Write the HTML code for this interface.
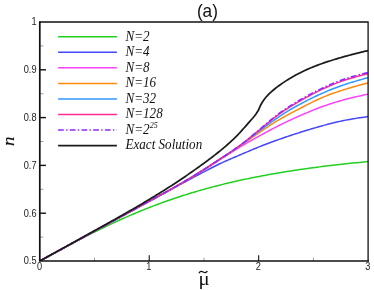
<!DOCTYPE html>
<html><head><meta charset="utf-8"><title>plot</title>
<style>
html,body{margin:0;padding:0;background:#fff;}
body{width:374px;height:290px;overflow:hidden;position:relative;font-family:"Liberation Sans",sans-serif;}
</style></head><body>
<svg width="374" height="290" viewBox="0 0 374 290" style="position:absolute;left:0;top:0">
<rect width="374" height="290" fill="#fff"/>
<defs><clipPath id="c"><rect x="39.8" y="22.0" width="328.3" height="239.0"/></clipPath></defs>
<g clip-path="url(#c)" fill="none" stroke-width="1.50" stroke-linejoin="round">
<path d="M39.80 261.00 L42.00 259.80 L44.21 258.59 L46.41 257.39 L48.61 256.19 L50.82 254.99 L53.02 253.80 L55.22 252.60 L57.43 251.41 L59.63 250.22 L61.83 249.03 L64.04 247.85 L66.24 246.67 L68.44 245.49 L70.65 244.32 L72.85 243.16 L75.05 242.00 L77.26 240.84 L79.46 239.69 L81.66 238.55 L83.87 237.41 L86.07 236.28 L88.27 235.16 L90.48 234.04 L92.68 232.94 L94.88 231.83 L97.09 230.74 L99.29 229.66 L101.49 228.58 L103.70 227.51 L105.90 226.45 L108.10 225.40 L110.31 224.36 L112.51 223.32 L114.71 222.30 L116.92 221.29 L119.12 220.28 L121.32 219.29 L123.53 218.30 L125.73 217.33 L127.93 216.36 L130.14 215.41 L132.34 214.46 L134.54 213.53 L136.75 212.60 L138.95 211.69 L141.15 210.78 L143.36 209.89 L145.56 209.01 L147.76 208.13 L149.97 207.27 L152.17 206.42 L154.37 205.58 L156.58 204.75 L158.78 203.93 L160.98 203.11 L163.19 202.31 L165.39 201.52 L167.59 200.74 L169.80 199.97 L172.00 199.22 L174.20 198.47 L176.41 197.73 L178.61 197.00 L180.81 196.28 L183.02 195.57 L185.22 194.87 L187.42 194.18 L189.63 193.50 L191.83 192.83 L194.03 192.16 L196.24 191.51 L198.44 190.87 L200.64 190.23 L202.85 189.61 L205.05 188.99 L207.26 188.39 L209.46 187.79 L211.66 187.20 L213.87 186.62 L216.07 186.04 L218.27 185.48 L220.48 184.92 L222.68 184.38 L224.88 183.84 L227.09 183.31 L229.29 182.78 L231.49 182.27 L233.70 181.76 L235.90 181.26 L238.10 180.76 L240.31 180.28 L242.51 179.80 L244.71 179.33 L246.92 178.86 L249.12 178.41 L251.32 177.95 L253.53 177.51 L255.73 177.07 L257.93 176.64 L260.14 176.22 L262.34 175.80 L264.54 175.39 L266.75 174.98 L268.95 174.58 L271.15 174.19 L273.36 173.80 L275.56 173.42 L277.76 173.05 L279.97 172.68 L282.17 172.31 L284.37 171.95 L286.58 171.60 L288.78 171.25 L290.98 170.90 L293.19 170.57 L295.39 170.23 L297.59 169.90 L299.80 169.58 L302.00 169.26 L304.20 168.95 L306.41 168.64 L308.61 168.33 L310.81 168.03 L313.02 167.74 L315.22 167.44 L317.42 167.16 L319.63 166.87 L321.83 166.59 L324.03 166.32 L326.24 166.05 L328.44 165.78 L330.64 165.52 L332.85 165.26 L335.05 165.00 L337.25 164.75 L339.46 164.50 L341.66 164.25 L343.86 164.01 L346.07 163.77 L348.27 163.54 L350.47 163.31 L352.68 163.08 L354.88 162.86 L357.08 162.63 L359.29 162.41 L361.49 162.20 L363.69 161.99 L365.90 161.78 L368.10 161.57" stroke="#22d022"/>
<path d="M39.80 261.00 L41.80 259.91 L43.80 258.82 L45.80 257.72 L47.80 256.63 L49.80 255.54 L51.80 254.45 L53.80 253.36 L55.80 252.27 L57.80 251.17 L59.80 250.08 L61.80 248.99 L63.80 247.90 L65.80 246.81 L67.80 245.72 L69.80 244.62 L71.80 243.53 L73.80 242.44 L75.80 241.35 L77.80 240.26 L79.80 239.17 L81.80 238.08 L83.80 236.98 L85.80 235.89 L87.80 234.80 L89.80 233.71 L91.80 232.62 L93.80 231.53 L95.80 230.44 L97.80 229.35 L99.80 228.26 L101.80 227.17 L103.80 226.08 L105.80 224.99 L107.80 223.90 L109.80 222.81 L111.80 221.72 L113.80 220.63 L115.80 219.54 L117.80 218.45 L119.80 217.36 L121.80 216.27 L123.80 215.18 L125.80 214.09 L127.80 213.00 L129.80 211.91 L131.80 210.82 L133.80 209.73 L135.80 208.64 L137.80 207.55 L139.80 206.46 L141.80 205.37 L143.80 204.28 L145.80 203.19 L147.80 202.10 L149.80 201.01 L151.80 199.92 L153.80 198.83 L155.80 197.74 L157.80 196.65 L159.80 195.56 L161.80 194.47 L163.80 193.38 L165.80 192.29 L167.80 191.20 L169.80 190.12 L171.80 189.03 L173.80 187.95 L175.80 186.87 L177.80 185.79 L179.80 184.71 L181.80 183.63 L183.80 182.55 L185.80 181.48 L187.80 180.41 L189.80 179.34 L191.80 178.27 L193.80 177.20 L195.80 176.13 L197.80 175.07 L199.80 174.01 L201.80 172.95 L203.80 171.89 L205.80 170.84 L207.80 169.79 L209.80 168.76 L211.80 167.74 L213.80 166.73 L215.80 165.73 L217.80 164.75 L219.80 163.79 L221.80 162.86 L223.80 161.94 L225.80 161.03 L227.80 160.15 L229.80 159.27 L231.80 158.40 L233.80 157.54 L235.80 156.69 L237.80 155.84 L239.80 154.99 L241.80 154.13 L243.80 153.28 L245.80 152.42 L247.80 151.57 L249.80 150.72 L251.80 149.88 L253.80 149.04 L255.80 148.21 L257.80 147.40 L259.80 146.59 L261.80 145.80 L263.80 145.02 L265.80 144.25 L267.80 143.49 L269.80 142.75 L271.80 142.01 L273.80 141.29 L275.80 140.57 L277.80 139.86 L279.80 139.15 L281.80 138.45 L283.80 137.76 L285.80 137.07 L287.80 136.39 L289.80 135.72 L291.80 135.05 L293.80 134.39 L295.80 133.74 L297.80 133.09 L299.80 132.45 L301.80 131.82 L303.80 131.20 L305.80 130.59 L307.80 129.98 L309.80 129.38 L311.80 128.79 L313.80 128.21 L315.80 127.63 L317.80 127.06 L319.80 126.50 L321.80 125.94 L323.80 125.39 L325.80 124.85 L327.80 124.32 L329.80 123.80 L331.80 123.29 L333.80 122.79 L335.80 122.31 L337.80 121.84 L339.80 121.39 L341.80 120.95 L343.80 120.53 L345.80 120.13 L347.80 119.75 L349.80 119.39 L351.80 119.04 L353.80 118.70 L355.80 118.38 L357.80 118.07 L359.80 117.77 L361.80 117.47 L363.80 117.18 L365.80 116.89 L367.80 116.60 L368.10 116.56" stroke="#4646ff"/>
<path d="M39.80 261.00 L41.80 259.91 L43.80 258.81 L45.80 257.72 L47.80 256.63 L49.80 255.54 L51.80 254.44 L53.80 253.35 L55.80 252.26 L57.80 251.16 L59.80 250.07 L61.80 248.98 L63.80 247.88 L65.80 246.79 L67.80 245.70 L69.80 244.61 L71.80 243.51 L73.80 242.42 L75.80 241.33 L77.80 240.23 L79.80 239.14 L81.80 238.05 L83.80 236.95 L85.80 235.86 L87.80 234.77 L89.80 233.68 L91.80 232.58 L93.80 231.49 L95.80 230.40 L97.80 229.30 L99.80 228.21 L101.80 227.12 L103.80 226.02 L105.80 224.93 L107.80 223.84 L109.80 222.74 L111.80 221.65 L113.80 220.56 L115.80 219.46 L117.80 218.37 L119.80 217.28 L121.80 216.19 L123.80 215.09 L125.80 214.00 L127.80 212.91 L129.80 211.82 L131.80 210.72 L133.80 209.63 L135.80 208.54 L137.80 207.45 L139.80 206.36 L141.80 205.27 L143.80 204.18 L145.80 203.09 L147.80 202.00 L149.80 200.91 L151.80 199.82 L153.80 198.73 L155.80 197.64 L157.80 196.55 L159.80 195.45 L161.80 194.36 L163.80 193.26 L165.80 192.15 L167.80 191.04 L169.80 189.93 L171.80 188.81 L173.80 187.68 L175.80 186.55 L177.80 185.40 L179.80 184.25 L181.80 183.09 L183.80 181.93 L185.80 180.75 L187.80 179.57 L189.80 178.38 L191.80 177.19 L193.80 175.98 L195.80 174.77 L197.80 173.55 L199.80 172.32 L201.80 171.09 L203.80 169.85 L205.80 168.60 L207.80 167.34 L209.80 166.08 L211.80 164.82 L213.80 163.55 L215.80 162.28 L217.80 161.00 L219.80 159.73 L221.80 158.45 L223.80 157.17 L225.80 155.90 L227.80 154.63 L229.80 153.36 L231.80 152.10 L233.80 150.85 L235.80 149.61 L237.80 148.39 L239.80 147.17 L241.80 145.97 L243.80 144.78 L245.80 143.61 L247.80 142.45 L249.80 141.30 L251.80 140.16 L253.80 139.03 L255.80 137.91 L257.80 136.79 L259.80 135.68 L261.80 134.58 L263.80 133.48 L265.80 132.38 L267.80 131.30 L269.80 130.23 L271.80 129.16 L273.80 128.11 L275.80 127.07 L277.80 126.05 L279.80 125.04 L281.80 124.05 L283.80 123.07 L285.80 122.11 L287.80 121.17 L289.80 120.24 L291.80 119.32 L293.80 118.41 L295.80 117.51 L297.80 116.63 L299.80 115.75 L301.80 114.88 L303.80 114.01 L305.80 113.16 L307.80 112.32 L309.80 111.49 L311.80 110.67 L313.80 109.86 L315.80 109.07 L317.80 108.29 L319.80 107.53 L321.80 106.79 L323.80 106.07 L325.80 105.36 L327.80 104.68 L329.80 104.00 L331.80 103.35 L333.80 102.72 L335.80 102.10 L337.80 101.50 L339.80 100.91 L341.80 100.35 L343.80 99.80 L345.80 99.27 L347.80 98.76 L349.80 98.26 L351.80 97.77 L353.80 97.30 L355.80 96.84 L357.80 96.38 L359.80 95.94 L361.80 95.50 L363.80 95.06 L365.80 94.63 L367.80 94.20 L368.10 94.14" stroke="#ff40ff"/>
<path d="M39.80 261.00 L41.80 259.91 L43.80 258.81 L45.80 257.72 L47.80 256.63 L49.80 255.54 L51.80 254.44 L53.80 253.35 L55.80 252.26 L57.80 251.17 L59.80 250.07 L61.80 248.98 L63.80 247.89 L65.80 246.79 L67.80 245.70 L69.80 244.61 L71.80 243.52 L73.80 242.42 L75.80 241.33 L77.80 240.24 L79.80 239.14 L81.80 238.05 L83.80 236.96 L85.80 235.86 L87.80 234.77 L89.80 233.68 L91.80 232.58 L93.80 231.49 L95.80 230.40 L97.80 229.30 L99.80 228.21 L101.80 227.12 L103.80 226.02 L105.80 224.93 L107.80 223.83 L109.80 222.74 L111.80 221.65 L113.80 220.55 L115.80 219.46 L117.80 218.37 L119.80 217.27 L121.80 216.18 L123.80 215.09 L125.80 213.99 L127.80 212.90 L129.80 211.81 L131.80 210.72 L133.80 209.63 L135.80 208.53 L137.80 207.44 L139.80 206.35 L141.80 205.26 L143.80 204.17 L145.80 203.09 L147.80 202.00 L149.80 200.91 L151.80 199.82 L153.80 198.73 L155.80 197.64 L157.80 196.55 L159.80 195.46 L161.80 194.37 L163.80 193.27 L165.80 192.16 L167.80 191.05 L169.80 189.94 L171.80 188.81 L173.80 187.68 L175.80 186.54 L177.80 185.40 L179.80 184.24 L181.80 183.07 L183.80 181.90 L185.80 180.71 L187.80 179.52 L189.80 178.32 L191.80 177.11 L193.80 175.89 L195.80 174.66 L197.80 173.42 L199.80 172.18 L201.80 170.92 L203.80 169.66 L205.80 168.38 L207.80 167.11 L209.80 165.82 L211.80 164.53 L213.80 163.24 L215.80 161.94 L217.80 160.64 L219.80 159.33 L221.80 158.02 L223.80 156.71 L225.80 155.40 L227.80 154.08 L229.80 152.76 L231.80 151.43 L233.80 150.09 L235.80 148.75 L237.80 147.40 L239.80 146.04 L241.80 144.67 L243.80 143.28 L245.80 141.90 L247.80 140.51 L249.80 139.11 L251.80 137.72 L253.80 136.33 L255.80 134.94 L257.80 133.55 L259.80 132.18 L261.80 130.81 L263.80 129.46 L265.80 128.11 L267.80 126.79 L269.80 125.48 L271.80 124.19 L273.80 122.93 L275.80 121.69 L277.80 120.47 L279.80 119.29 L281.80 118.13 L283.80 117.00 L285.80 115.90 L287.80 114.81 L289.80 113.75 L291.80 112.69 L293.80 111.65 L295.80 110.62 L297.80 109.58 L299.80 108.55 L301.80 107.52 L303.80 106.49 L305.80 105.45 L307.80 104.43 L309.80 103.42 L311.80 102.41 L313.80 101.43 L315.80 100.47 L317.80 99.53 L319.80 98.62 L321.80 97.74 L323.80 96.89 L325.80 96.07 L327.80 95.28 L329.80 94.51 L331.80 93.77 L333.80 93.05 L335.80 92.35 L337.80 91.67 L339.80 91.01 L341.80 90.36 L343.80 89.73 L345.80 89.12 L347.80 88.51 L349.80 87.92 L351.80 87.34 L353.80 86.76 L355.80 86.20 L357.80 85.64 L359.80 85.09 L361.80 84.54 L363.80 83.99 L365.80 83.45 L367.80 82.91 L368.10 82.83" stroke="#ff8810"/>
<path d="M39.80 261.00 L41.80 259.91 L43.80 258.81 L45.80 257.72 L47.80 256.63 L49.80 255.54 L51.80 254.44 L53.80 253.35 L55.80 252.26 L57.80 251.16 L59.80 250.07 L61.80 248.98 L63.80 247.89 L65.80 246.79 L67.80 245.70 L69.80 244.61 L71.80 243.51 L73.80 242.42 L75.80 241.33 L77.80 240.24 L79.80 239.14 L81.80 238.05 L83.80 236.96 L85.80 235.86 L87.80 234.77 L89.80 233.68 L91.80 232.58 L93.80 231.49 L95.80 230.40 L97.80 229.30 L99.80 228.21 L101.80 227.12 L103.80 226.02 L105.80 224.93 L107.80 223.84 L109.80 222.74 L111.80 221.65 L113.80 220.55 L115.80 219.46 L117.80 218.37 L119.80 217.28 L121.80 216.18 L123.80 215.09 L125.80 214.00 L127.80 212.90 L129.80 211.81 L131.80 210.72 L133.80 209.63 L135.80 208.54 L137.80 207.45 L139.80 206.36 L141.80 205.27 L143.80 204.18 L145.80 203.09 L147.80 202.00 L149.80 200.91 L151.80 199.82 L153.80 198.73 L155.80 197.64 L157.80 196.55 L159.80 195.46 L161.80 194.36 L163.80 193.26 L165.80 192.16 L167.80 191.05 L169.80 189.93 L171.80 188.81 L173.80 187.68 L175.80 186.54 L177.80 185.40 L179.80 184.24 L181.80 183.08 L183.80 181.91 L185.80 180.73 L187.80 179.54 L189.80 178.33 L191.80 177.12 L193.80 175.90 L195.80 174.67 L197.80 173.43 L199.80 172.18 L201.80 170.91 L203.80 169.64 L205.80 168.36 L207.80 167.07 L209.80 165.77 L211.80 164.47 L213.80 163.16 L215.80 161.85 L217.80 160.54 L219.80 159.23 L221.80 157.92 L223.80 156.61 L225.80 155.29 L227.80 153.97 L229.80 152.63 L231.80 151.29 L233.80 149.93 L235.80 148.55 L237.80 147.16 L239.80 145.74 L241.80 144.30 L243.80 142.84 L245.80 141.36 L247.80 139.86 L249.80 138.35 L251.80 136.83 L253.80 135.31 L255.80 133.77 L257.80 132.24 L259.80 130.71 L261.80 129.19 L263.80 127.67 L265.80 126.16 L267.80 124.67 L269.80 123.20 L271.80 121.74 L273.80 120.31 L275.80 118.90 L277.80 117.52 L279.80 116.17 L281.80 114.86 L283.80 113.58 L285.80 112.33 L287.80 111.11 L289.80 109.92 L291.80 108.75 L293.80 107.61 L295.80 106.49 L297.80 105.38 L299.80 104.30 L301.80 103.23 L303.80 102.17 L305.80 101.14 L307.80 100.12 L309.80 99.11 L311.80 98.12 L313.80 97.15 L315.80 96.20 L317.80 95.27 L319.80 94.35 L321.80 93.45 L323.80 92.57 L325.80 91.71 L327.80 90.87 L329.80 90.05 L331.80 89.25 L333.80 88.47 L335.80 87.70 L337.80 86.96 L339.80 86.23 L341.80 85.53 L343.80 84.84 L345.80 84.18 L347.80 83.53 L349.80 82.90 L351.80 82.29 L353.80 81.69 L355.80 81.10 L357.80 80.52 L359.80 79.96 L361.80 79.40 L363.80 78.84 L365.80 78.29 L367.80 77.74 L368.10 77.66" stroke="#3098ff"/>
<path d="M39.80 261.00 L41.80 259.91 L43.80 258.81 L45.80 257.72 L47.80 256.63 L49.80 255.54 L51.80 254.44 L53.80 253.35 L55.80 252.26 L57.80 251.16 L59.80 250.07 L61.80 248.98 L63.80 247.89 L65.80 246.79 L67.80 245.70 L69.80 244.61 L71.80 243.51 L73.80 242.42 L75.80 241.33 L77.80 240.23 L79.80 239.14 L81.80 238.05 L83.80 236.96 L85.80 235.86 L87.80 234.77 L89.80 233.68 L91.80 232.58 L93.80 231.49 L95.80 230.40 L97.80 229.30 L99.80 228.21 L101.80 227.12 L103.80 226.02 L105.80 224.93 L107.80 223.84 L109.80 222.74 L111.80 221.65 L113.80 220.56 L115.80 219.46 L117.80 218.37 L119.80 217.28 L121.80 216.18 L123.80 215.09 L125.80 214.00 L127.80 212.91 L129.80 211.81 L131.80 210.72 L133.80 209.63 L135.80 208.54 L137.80 207.45 L139.80 206.36 L141.80 205.27 L143.80 204.18 L145.80 203.09 L147.80 202.00 L149.80 200.91 L151.80 199.82 L153.80 198.73 L155.80 197.64 L157.80 196.55 L159.80 195.46 L161.80 194.36 L163.80 193.26 L165.80 192.15 L167.80 191.05 L169.80 189.93 L171.80 188.81 L173.80 187.68 L175.80 186.54 L177.80 185.40 L179.80 184.25 L181.80 183.09 L183.80 181.92 L185.80 180.74 L187.80 179.55 L189.80 178.35 L191.80 177.13 L193.80 175.91 L195.80 174.68 L197.80 173.43 L199.80 172.18 L201.80 170.91 L203.80 169.63 L205.80 168.34 L207.80 167.04 L209.80 165.74 L211.80 164.43 L213.80 163.12 L215.80 161.80 L217.80 160.49 L219.80 159.18 L221.80 157.87 L223.80 156.57 L225.80 155.25 L227.80 153.93 L229.80 152.60 L231.80 151.25 L233.80 149.88 L235.80 148.48 L237.80 147.06 L239.80 145.60 L241.80 144.10 L243.80 142.57 L245.80 141.01 L247.80 139.42 L249.80 137.82 L251.80 136.19 L253.80 134.54 L255.80 132.89 L257.80 131.23 L259.80 129.57 L261.80 127.90 L263.80 126.25 L265.80 124.60 L267.80 122.97 L269.80 121.35 L271.80 119.76 L273.80 118.19 L275.80 116.66 L277.80 115.16 L279.80 113.69 L281.80 112.28 L283.80 110.90 L285.80 109.56 L287.80 108.26 L289.80 106.99 L291.80 105.74 L293.80 104.53 L295.80 103.34 L297.80 102.17 L299.80 101.01 L301.80 99.88 L303.80 98.75 L305.80 97.65 L307.80 96.56 L309.80 95.48 L311.80 94.43 L313.80 93.39 L315.80 92.37 L317.80 91.37 L319.80 90.40 L321.80 89.44 L323.80 88.51 L325.80 87.59 L327.80 86.70 L329.80 85.84 L331.80 85.00 L333.80 84.18 L335.80 83.38 L337.80 82.62 L339.80 81.87 L341.80 81.16 L343.80 80.47 L345.80 79.81 L347.80 79.17 L349.80 78.56 L351.80 77.98 L353.80 77.41 L355.80 76.86 L357.80 76.32 L359.80 75.80 L361.80 75.28 L363.80 74.77 L365.80 74.27 L367.80 73.77 L368.10 73.70" stroke="#ff2896"/>
<path d="M39.80 261.00 L41.80 259.91 L43.80 258.81 L45.80 257.72 L47.80 256.63 L49.80 255.54 L51.80 254.44 L53.80 253.35 L55.80 252.26 L57.80 251.16 L59.80 250.07 L61.80 248.98 L63.80 247.89 L65.80 246.79 L67.80 245.70 L69.80 244.61 L71.80 243.51 L73.80 242.42 L75.80 241.33 L77.80 240.23 L79.80 239.14 L81.80 238.05 L83.80 236.96 L85.80 235.86 L87.80 234.77 L89.80 233.68 L91.80 232.58 L93.80 231.49 L95.80 230.40 L97.80 229.30 L99.80 228.21 L101.80 227.12 L103.80 226.02 L105.80 224.93 L107.80 223.84 L109.80 222.74 L111.80 221.65 L113.80 220.56 L115.80 219.46 L117.80 218.37 L119.80 217.28 L121.80 216.18 L123.80 215.09 L125.80 214.00 L127.80 212.91 L129.80 211.81 L131.80 210.72 L133.80 209.63 L135.80 208.54 L137.80 207.45 L139.80 206.36 L141.80 205.27 L143.80 204.18 L145.80 203.09 L147.80 202.00 L149.80 200.91 L151.80 199.82 L153.80 198.73 L155.80 197.64 L157.80 196.55 L159.80 195.46 L161.80 194.36 L163.80 193.26 L165.80 192.15 L167.80 191.05 L169.80 189.93 L171.80 188.81 L173.80 187.68 L175.80 186.54 L177.80 185.40 L179.80 184.25 L181.80 183.09 L183.80 181.92 L185.80 180.74 L187.80 179.55 L189.80 178.35 L191.80 177.13 L193.80 175.91 L195.80 174.68 L197.80 173.43 L199.80 172.18 L201.80 170.91 L203.80 169.63 L205.80 168.34 L207.80 167.04 L209.80 165.74 L211.80 164.43 L213.80 163.12 L215.80 161.80 L217.80 160.49 L219.80 159.18 L221.80 157.87 L223.80 156.57 L225.80 155.25 L227.80 153.93 L229.80 152.60 L231.80 151.25 L233.80 149.88 L235.80 148.48 L237.80 147.06 L239.80 145.60 L241.80 144.10 L243.80 142.57 L245.80 141.01 L247.80 139.42 L249.80 137.82 L251.80 136.14 L253.80 134.44 L255.80 132.74 L257.80 131.02 L259.80 129.31 L261.80 127.59 L263.80 125.88 L265.80 124.18 L267.80 122.49 L269.80 120.82 L271.80 119.18 L273.80 117.56 L275.80 115.97 L277.80 114.41 L279.80 112.90 L281.80 111.46 L283.80 110.06 L285.80 108.70 L287.80 107.38 L289.80 106.09 L291.80 104.83 L293.80 103.59 L295.80 102.38 L297.80 101.19 L299.80 100.02 L301.80 98.87 L303.80 97.74 L305.80 96.62 L307.80 95.52 L309.80 94.43 L311.80 93.37 L313.80 92.32 L315.80 91.29 L317.80 90.29 L319.80 89.30 L321.80 88.33 L323.80 87.39 L325.80 86.47 L327.80 85.57 L329.80 84.70 L331.80 83.85 L333.80 83.02 L335.80 82.22 L337.80 81.44 L339.80 80.69 L341.80 79.97 L343.80 79.27 L345.80 78.61 L347.80 77.96 L349.80 77.34 L351.80 76.75 L353.80 76.17 L355.80 75.61 L357.80 75.06 L359.80 74.53 L361.80 74.01 L363.80 73.49 L365.80 72.98 L367.80 72.48 L368.10 72.40" stroke="#8c28ff" stroke-dasharray="5.7 2.3 1.4 2.3"/>
<path d="M39.80 261.00 L41.30 260.17 L42.80 259.35 L44.30 258.52 L45.80 257.69 L47.30 256.86 L48.80 256.04 L50.30 255.21 L51.80 254.38 L53.30 253.55 L54.80 252.73 L56.30 251.90 L57.80 251.07 L59.30 250.24 L60.80 249.41 L62.30 248.59 L63.80 247.76 L65.30 246.93 L66.80 246.10 L68.30 245.27 L69.80 244.44 L71.30 243.61 L72.80 242.78 L74.30 241.95 L75.80 241.12 L77.30 240.29 L78.80 239.46 L80.30 238.63 L81.80 237.80 L83.30 236.97 L84.80 236.14 L86.30 235.30 L87.80 234.47 L89.30 233.64 L90.80 232.81 L92.30 231.97 L93.80 231.14 L95.30 230.31 L96.80 229.47 L98.30 228.64 L99.80 227.80 L101.30 226.97 L102.80 226.13 L104.30 225.29 L105.80 224.46 L107.30 223.62 L108.80 222.78 L110.30 221.94 L111.80 221.10 L113.30 220.25 L114.80 219.41 L116.30 218.57 L117.80 217.72 L119.30 216.87 L120.80 216.02 L122.30 215.17 L123.80 214.32 L125.30 213.46 L126.80 212.60 L128.30 211.74 L129.80 210.88 L131.30 210.02 L132.80 209.15 L134.30 208.28 L135.80 207.41 L137.30 206.53 L138.80 205.66 L140.30 204.78 L141.80 203.89 L143.30 203.00 L144.80 202.11 L146.30 201.22 L147.80 200.32 L149.30 199.42 L150.80 198.52 L152.30 197.61 L153.80 196.70 L155.30 195.78 L156.80 194.86 L158.30 193.93 L159.80 193.01 L161.30 192.07 L162.80 191.13 L164.30 190.19 L165.80 189.24 L167.30 188.29 L168.80 187.33 L170.30 186.37 L171.80 185.40 L173.30 184.42 L174.80 183.44 L176.30 182.45 L177.80 181.46 L179.30 180.46 L180.80 179.46 L182.30 178.45 L183.80 177.44 L185.30 176.41 L186.80 175.39 L188.30 174.35 L189.80 173.32 L191.30 172.27 L192.80 171.22 L194.30 170.16 L195.80 169.10 L197.30 168.04 L198.80 166.96 L200.30 165.88 L201.80 164.80 L203.30 163.71 L204.80 162.61 L206.30 161.50 L207.80 160.39 L209.30 159.26 L210.80 158.13 L212.30 156.99 L213.80 155.83 L215.30 154.66 L216.80 153.48 L218.30 152.29 L219.80 151.08 L221.30 149.86 L222.80 148.62 L224.30 147.36 L225.80 146.09 L227.30 144.78 L228.80 143.46 L230.30 142.10 L231.80 140.71 L233.30 139.29 L234.80 137.84 L236.30 136.35 L237.80 134.81 L239.30 133.24 L240.80 131.62 L242.30 129.96 L243.80 128.28 L245.30 126.57 L246.80 124.85 L248.30 123.13 L249.80 121.43 L251.30 119.73 L252.80 118.01 L254.30 116.20 L255.80 114.24 L257.30 112.09 L258.30 110.60 L259.30 108.05 L260.80 104.81 L262.30 102.21 L263.80 99.98 L265.30 98.03 L266.80 96.28 L268.30 94.67 L269.80 93.19 L271.30 91.80 L272.80 90.49 L274.30 89.24 L275.80 88.04 L277.30 86.88 L278.80 85.77 L280.30 84.69 L281.80 83.63 L283.30 82.60 L284.80 81.61 L286.30 80.64 L287.80 79.69 L289.30 78.77 L290.80 77.88 L292.30 77.00 L293.80 76.15 L295.30 75.31 L296.80 74.50 L298.30 73.70 L299.80 72.93 L301.30 72.17 L302.80 71.44 L304.30 70.73 L305.80 70.03 L307.30 69.36 L308.80 68.71 L310.30 68.07 L311.80 67.45 L313.30 66.84 L314.80 66.25 L316.30 65.67 L317.80 65.10 L319.30 64.55 L320.80 64.00 L322.30 63.47 L323.80 62.95 L325.30 62.45 L326.80 61.94 L328.30 61.45 L329.80 60.96 L331.30 60.48 L332.80 60.01 L334.30 59.54 L335.80 59.08 L337.30 58.62 L338.80 58.17 L340.30 57.73 L341.80 57.30 L343.30 56.87 L344.80 56.46 L346.30 56.04 L347.80 55.64 L349.30 55.23 L350.80 54.83 L352.30 54.44 L353.80 54.05 L355.30 53.66 L356.80 53.28 L358.30 52.91 L359.80 52.54 L361.30 52.17 L362.80 51.81 L364.30 51.46 L365.80 51.12 L367.30 50.78 L368.10 50.60" stroke="#1c1c1c" stroke-width="1.75"/>
</g>
<g stroke="#777" stroke-width="0.7">
<line x1="39.8" y1="237.10" x2="43.4" y2="237.10"/>
<line x1="39.8" y1="189.30" x2="43.4" y2="189.30"/>
<line x1="39.8" y1="141.50" x2="43.4" y2="141.50"/>
<line x1="39.8" y1="93.70" x2="43.4" y2="93.70"/>
<line x1="39.8" y1="45.90" x2="43.4" y2="45.90"/>
<line x1="94.52" y1="261.0" x2="94.52" y2="257.6"/>
<line x1="203.95" y1="261.0" x2="203.95" y2="257.6"/>
<line x1="313.38" y1="261.0" x2="313.38" y2="257.6"/>
</g>
<g stroke="#111">
<line x1="39.8" y1="213.20" x2="46.0" y2="213.20" stroke-width="1.4"/>
<line x1="39.8" y1="165.40" x2="46.0" y2="165.40" stroke-width="1.4"/>
<line x1="39.8" y1="117.60" x2="46.0" y2="117.60" stroke-width="1.4"/>
<line x1="39.8" y1="69.80" x2="46.0" y2="69.80" stroke-width="1.4"/>
<line x1="149.23" y1="261.0" x2="149.23" y2="255.2" stroke-width="1.1"/>
<line x1="258.67" y1="261.0" x2="258.67" y2="255.2" stroke-width="1.1"/>
</g>
<g stroke="#111" fill="none">
<path d="M39.8 22.0 L368.1 22.0 L368.1 261.0" stroke-width="1.3"/>
<path d="M39.8 22.0 L39.8 261.0 L368.1 261.0" stroke-width="1.7" stroke-linecap="square"/>
</g>
<g stroke-width="1.50">
<line x1="58.1" y1="36.75" x2="116.9" y2="36.75" stroke="#22d022"/>
<line x1="58.1" y1="52.31" x2="116.9" y2="52.31" stroke="#4646ff"/>
<line x1="58.1" y1="67.87" x2="116.9" y2="67.87" stroke="#ff40ff"/>
<line x1="58.1" y1="83.43" x2="116.9" y2="83.43" stroke="#ff8810"/>
<line x1="58.1" y1="98.99" x2="116.9" y2="98.99" stroke="#3098ff"/>
<line x1="58.1" y1="114.55" x2="116.9" y2="114.55" stroke="#ff2896"/>
<line x1="58.1" y1="130.11" x2="116.9" y2="130.11" stroke="#8c28ff" stroke-dasharray="5.7 2.3 1.4 2.3"/>
<line x1="58.1" y1="145.67" x2="116.9" y2="145.67" stroke="#1c1c1c" stroke-width="1.75"/>
</g>
<g style="will-change:transform;filter:grayscale(1)">
<g font-family="Liberation Serif, serif" font-style="italic" font-size="13.1" fill="#111">
<text transform="translate(125.5 40.55) scale(1 1.05)">N=2</text>
<text transform="translate(125.5 56.11) scale(1 1.05)">N=4</text>
<text transform="translate(125.5 71.67) scale(1 1.05)">N=8</text>
<text transform="translate(125.5 87.23) scale(1 1.05)">N=16</text>
<text transform="translate(125.5 102.79) scale(1 1.05)">N=32</text>
<text transform="translate(125.5 118.35) scale(1 1.05)">N=128</text>
<text transform="translate(125.5 133.91) scale(1 1.05)">N=2</text>
<text transform="translate(125.5 149.47) scale(1 1.05)">Exact Solution</text>
<text transform="translate(149.7 127.91) scale(1 1.05)" font-size="8">25</text>
</g>
<g font-family="Liberation Sans, sans-serif" font-size="9.2" fill="#222">
<text transform="translate(36.5 264.30) scale(1 1.1)" text-anchor="end">0.5</text>
<text transform="translate(36.5 216.50) scale(1 1.1)" text-anchor="end">0.6</text>
<text transform="translate(36.5 168.70) scale(1 1.1)" text-anchor="end">0.7</text>
<text transform="translate(36.5 120.90) scale(1 1.1)" text-anchor="end">0.8</text>
<text transform="translate(36.5 73.10) scale(1 1.1)" text-anchor="end">0.9</text>
<text transform="translate(36.5 25.30) scale(1 1.1)" text-anchor="end">1</text>
<text transform="translate(39.50 270.2) scale(1 1.1)" text-anchor="middle">0</text>
<text transform="translate(148.93 270.2) scale(1 1.1)" text-anchor="middle">1</text>
<text transform="translate(258.37 270.2) scale(1 1.1)" text-anchor="middle">2</text>
<text transform="translate(367.80 270.2) scale(1 1.1)" text-anchor="middle">3</text>
</g>
<text transform="translate(207.4 17.3) scale(0.945 1)" text-anchor="middle" font-family="Liberation Sans, sans-serif" font-size="18.2" fill="#111">(a)</text>
<text transform="translate(14.3 141.2) rotate(-90) scale(1.08 1)" text-anchor="middle" font-family="Liberation Serif, serif" font-style="italic" font-size="17.6" fill="#111" stroke="#111" stroke-width="0.15">n</text>
<text transform="translate(204.0 284.6) scale(1.15 1)" text-anchor="middle" font-family="Liberation Serif, serif" font-size="18" fill="#111">μ</text>
<path d="M198.9 273.3 C200.0 271.0 201.6 271.0 203.2 272.0 C204.8 273.0 206.2 273.0 207.4 271.2" fill="none" stroke="#111" stroke-width="1.3"/>
</g>
</svg>
</body></html>
